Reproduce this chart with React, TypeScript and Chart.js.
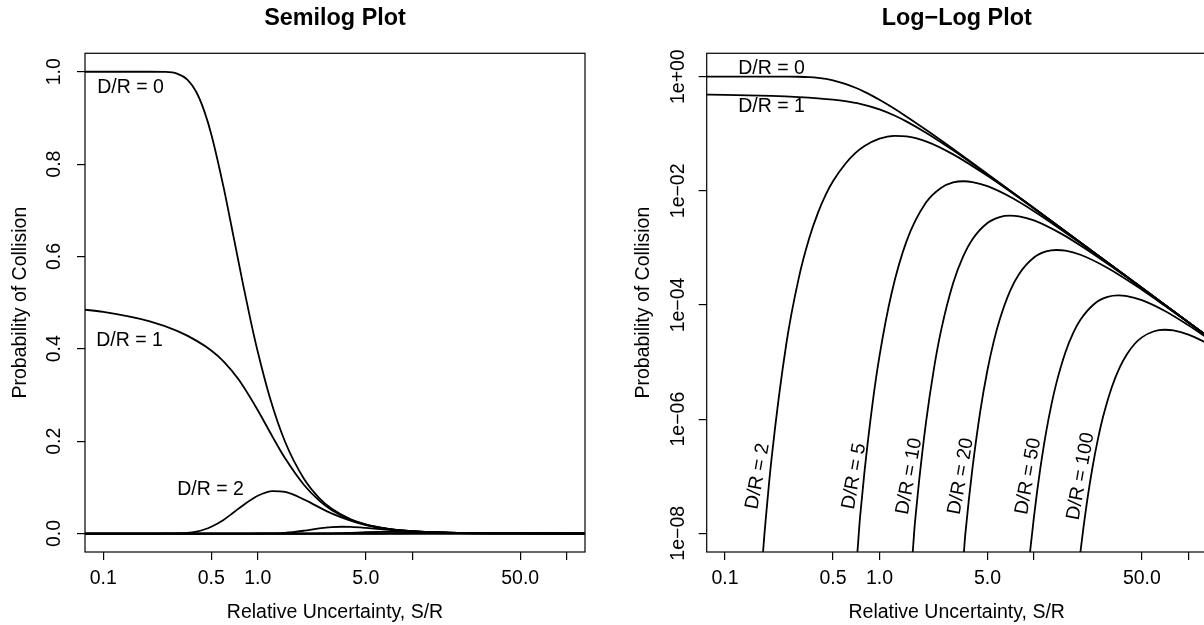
import React, { useEffect, useRef } from "react";
import { Chart, registerables } from "chart.js";

Chart.register(...registerables);

// ---------------- data (S/R values and probability of collision per curve) ----------------
const curveNames = ["D/R = 0", "D/R = 1", "D/R = 2", "D/R = 5", "D/R = 10", "D/R = 20", "D/R = 50", "D/R = 100"];

const sDR0 = [0.07, 0.1, 0.2, 0.25, 0.3, 0.35, 0.4, 0.45, 0.5, 0.6, 0.7, 0.8, 0.9, 1.0, 1.2, 1.5, 2, 2.5, 3, 4, 5, 7, 10, 20, 50, 100, 135];
const pDR0 = [1, 1, 0.999996, 0.99966, 0.99614, 0.9831, 0.9561, 0.9153, 0.8647, 0.7506, 0.6396, 0.5422, 0.4606, 0.3935, 0.2934, 0.1993, 0.1175, 0.07688, 0.054, 0.03077, 0.0198, 0.010152, 0.004988, 0.001249, 0.0002, 0.00005, 0.00002743];

const sDR1 = [0.07, 0.1, 0.2, 0.3, 0.4, 0.5, 0.6, 0.75, 1.0, 1.25, 1.5, 2, 2.5, 3, 4, 5, 7, 10, 20, 50, 100, 135];
const pDR1 = [0.4859, 0.4799, 0.4594, 0.4387, 0.4178, 0.3965, 0.373, 0.334, 0.2671, 0.2087, 0.1634, 0.1045, 0.0712, 0.0512, 0.0298, 0.0194, 0.01005, 0.00496, 0.001248, 0.0002, 0.00005, 0.00002743];

const sDR2 = [0.07, 0.17, 0.18, 0.2, 0.25, 0.3, 0.35, 0.4, 0.45, 0.5, 0.6, 0.7, 0.8, 1.0, 1.25, 1.5, 2, 3, 5, 10, 20, 50, 100, 135];
const pDR2 = [1e-12, 1.42e-9, 9.65e-9, 1.99e-7, 2.18e-5, 2.93e-4, 1.44e-3, 4.15e-3, 8.7e-3, 0.01473, 0.0295, 0.0461, 0.0608, 0.0819, 0.0919, 0.09, 0.0735, 0.0435, 0.0183, 0.00489, 0.001243, 0.0001996, 0.00004998, 0.00002743];

const sDR5 = [0.07, 0.7, 0.75, 0.8, 0.9, 1.0, 1.2, 1.5, 2, 2.5, 3, 3.5, 4, 5, 7, 10, 20, 50, 100, 135];
const pDR5 = [1e-12, 2.35e-9, 2.03e-8, 1.2e-7, 1.8e-6, 1.27e-5, 1.64e-4, 1.33e-3, 6.22e-3, 0.01125, 0.014, 0.01472, 0.01426, 0.01207, 0.007876, 0.004403, 0.001211, 0.000199, 0.00004994, 0.00002742];

const sDR10 = [0.07, 1.6, 1.7, 1.8, 2, 2.25, 2.5, 3, 3.5, 4, 5, 6, 7, 8, 10, 15, 20, 30, 50, 100, 135];
const pDR10 = [1e-12, 2.56e-9, 1.62e-8, 7.65e-8, 8.71e-7, 7.55e-6, 3.48e-5, 2.42e-4, 7.32e-4, 1.419e-3, 2.734e-3, 3.473e-3, 3.678e-3, 3.574e-3, 3.029e-3, 1.778e-3, 1.1025e-3, 5.252e-4, 1.96e-4, 4.975e-5, 2.736e-5];

const sDR20 = [0.07, 3.4, 3.6, 3.8, 4, 4.5, 5, 5.5, 6, 7, 8, 10, 12, 14, 16, 20, 30, 50, 70, 100, 135];
const pDR20 = [1e-12, 1.84e-9, 9.97e-9, 4.14e-8, 1.384e-7, 1.411e-6, 7.19e-6, 2.327e-5, 5.53e-5, 1.749e-4, 3.461e-4, 6.784e-4, 8.664e-4, 9.195e-4, 8.94e-4, 7.579e-4, 4.448e-4, 1.846e-4, 9.8e-5, 4.901e-5, 2.714e-5];

const sDR50 = [0.07, 9.3, 9.5, 10, 10.5, 11, 12, 13, 14, 16, 18, 20, 25, 30, 35, 40, 50, 70, 100, 135];
const pDR50 = [1e-12, 3.18e-9, 5.54e-9, 1.917e-8, 5.53e-8, 1.374e-7, 5.98e-7, 1.832e-6, 4.365e-6, 1.485e-5, 3.265e-5, 5.499e-5, 1.083e-4, 1.385e-4, 1.471e-4, 1.431e-4, 1.213e-4, 7.906e-5, 4.41e-5, 2.562e-5];

const sDR100 = [0.07, 19, 20, 21, 22, 24, 26, 28, 32, 36, 40, 45, 50, 60, 70, 80, 100, 135];
const pDR100 = [1e-12, 1.35e-9, 4.69e-9, 1.359e-8, 3.386e-8, 1.479e-7, 4.549e-7, 1.0855e-6, 3.702e-6, 8.15e-6, 1.3735e-5, 2.091e-5, 2.707e-5, 3.463e-5, 3.678e-5, 3.577e-5, 3.033e-5, 2.085e-5];

const curveS = [sDR0, sDR1, sDR2, sDR5, sDR10, sDR20, sDR50, sDR100];
const curveP = [pDR0, pDR1, pDR2, pDR5, pDR10, pDR20, pDR50, pDR100];

// ticks
const xTickValues = [0.1, 0.5, 1, 5, 10, 50, 100];
const xTickLabels = ["0.1", "0.5", "1.0", "5.0", "", "50.0", ""];
const yTickValuesLin = [0, 0.2, 0.4, 0.6, 0.8, 1.0];
const yTickLabelsLin = ["0.0", "0.2", "0.4", "0.6", "0.8", "1.0"];
const yTickValuesLog = [1e-8, 1e-6, 1e-4, 1e-2, 1];
const yTickLabelsLog = ["1e\u221208", "1e\u221206", "1e\u221204", "1e\u221202", "1e+00"];

// text annotations (anchor in data coordinates)
const semilogNotes = [
  { text: "D/R = 0", x: 0.15, y: 0.966, rot: 0 },
  { text: "D/R = 1", x: 0.148, y: 0.418, rot: 0 },
  { text: "D/R = 2", x: 0.494, y: 0.095, rot: 0 },
];
const loglogNotes = [
  { text: "D/R = 0", x: 0.2, y: 1.39, rot: 0 },
  { text: "D/R = 1", x: 0.2, y: 0.3, rot: 0 },
  { text: "D/R = 2", x: 0.163, y: 1e-7, rot: -80 },
  { text: "D/R = 5", x: 0.686, y: 1e-7, rot: -80 },
  { text: "D/R = 10", x: 1.56, y: 1e-7, rot: -80 },
  { text: "D/R = 20", x: 3.37, y: 1e-7, rot: -80 },
  { text: "D/R = 50", x: 9.2, y: 1e-7, rot: -80 },
  { text: "D/R = 100", x: 20.1, y: 1e-7, rot: -80 },
];

// ---------------- styling ----------------
const FONT = "'Liberation Sans', Arial, Helvetica, sans-serif";
const FS = 19.5;
const X_MIN = 0.07611;
const X_MAX = 131.4;

const decorPlugin = {
  id: "decor",
  afterDatasetsDraw(chart: any, _args: any, opts: any) {
    const { ctx, chartArea } = chart;
    const { left, top, right, bottom } = chartArea;
    ctx.save();
    ctx.strokeStyle = "#000";
    ctx.lineWidth = 1.2;
    ctx.strokeRect(left, top, right - left, bottom - top);
    ctx.fillStyle = "#000";
    ctx.font = `${FS}px ${FONT}`;
    ctx.textAlign = "center";
    ctx.textBaseline = "middle";
    const ys = chart.scales.y;
    const xs = chart.scales.x;
    opts.yTicks.forEach((v: number, i: number) => {
      const py = ys.getPixelForValue(v);
      ctx.save();
      ctx.translate(opts.yLabelX, py);
      ctx.rotate(-Math.PI / 2);
      ctx.fillText(opts.yLabels[i], 0, 0);
      ctx.restore();
    });
    opts.notes.forEach((n: any) => {
      const px = xs.getPixelForValue(n.x);
      const py = ys.getPixelForValue(n.y);
      ctx.save();
      ctx.translate(px, py);
      ctx.rotate((n.rot * Math.PI) / 180);
      ctx.fillText(n.text, 0, 0);
      ctx.restore();
    });
    ctx.restore();
  },
};

function buildConfig(kind: "lin" | "log") {
  const isLog = kind === "log";
  const datasets = curveS.map((sArr, k) => ({
    label: curveNames[k],
    data: sArr.map((s, i) => ({ x: s, y: curveP[k][i] })),
    borderColor: "#000",
    borderWidth: 1.8,
    pointRadius: 0,
    fill: false,
    cubicInterpolationMode: "monotone",
  }));
  const gridOpts = {
    drawOnChartArea: false,
    drawTicks: true,
    tickLength: 8,
    color: "#000",
    lineWidth: 1.2,
  };
  return {
    type: "line",
    data: { datasets },
    plugins: [decorPlugin],
    options: {
      animation: false,
      responsive: false,
      maintainAspectRatio: false,
      events: [],
      layout: { padding: { left: 0, right: isLog ? 13.3 : 15, top: 0, bottom: 0 } },
      plugins: {
        legend: { display: false },
        tooltip: { enabled: false },
        title: {
          display: true,
          text: isLog ? "Log\u2212Log Plot" : "Semilog Plot",
          fullSize: false,
          color: "#000",
          font: { family: FONT, size: 23.4, weight: "bold" },
          padding: { top: 5, bottom: 20.2 },
        },
        decor: {
          yTicks: isLog ? yTickValuesLog : yTickValuesLin,
          yLabels: isLog ? yTickLabelsLog : yTickLabelsLin,
          yLabelX: isLog ? 79 : 54.5,
          notes: isLog ? loglogNotes : semilogNotes,
        },
      },
      scales: {
        x: {
          type: "logarithmic",
          min: X_MIN,
          max: X_MAX,
          afterBuildTicks: (scale: any) => {
            scale.ticks = xTickValues.map((v) => ({ value: v }));
          },
          afterFit: (scale: any) => {
            scale.height = 73;
          },
          ticks: {
            autoSkip: false,
            maxRotation: 0,
            minRotation: 0,
            padding: 6.8,
            color: "#000",
            font: { family: FONT, size: FS },
            callback: (_v: any, i: number) => xTickLabels[i],
          },
          grid: gridOpts,
          border: { display: false },
          title: {
            display: true,
            text: "Relative Uncertainty, S/R",
            color: "#000",
            font: { family: FONT, size: FS },
            padding: { top: 0, bottom: 0.8 },
          },
        },
        y: {
          type: isLog ? "logarithmic" : "linear",
          min: isLog ? 4.7e-9 : -0.04,
          max: isLog ? 2.57 : 1.04,
          afterBuildTicks: (scale: any) => {
            scale.ticks = (isLog ? yTickValuesLog : yTickValuesLin).map((v) => ({ value: v }));
          },
          afterFit: (scale: any) => {
            scale.width = isLog ? 106.7 : 85;
          },
          ticks: { display: false },
          grid: gridOpts,
          border: { display: false },
          title: {
            display: true,
            text: "Probability of Collision",
            color: "#000",
            font: { family: FONT, size: FS },
            padding: { top: isLog ? 31.6 : 9.3, bottom: 0 },
          },
        },
      },
    },
  };
}

function Panel({ kind, left, width }: { kind: "lin" | "log"; left: number; width: number }) {
  const ref = useRef<HTMLCanvasElement | null>(null);
  useEffect(() => {
    if (!ref.current) return;
    const chart = new Chart(ref.current, buildConfig(kind) as any);
    return () => chart.destroy();
  }, [kind]);
  return (
    <canvas
      ref={ref}
      width={width}
      height={625}
      style={{ position: "absolute", left, top: 0, width, height: 625 }}
    />
  );
}

export default function App() {
  return (
    <div
      style={{
        position: "fixed",
        left: 0,
        top: 0,
        width: 1204,
        height: 625,
        overflow: "hidden",
        background: "#fff",
      }}
    >
      <Panel kind="lin" left={0} width={600} />
      <Panel kind="log" left={600} width={620} />
    </div>
  );
}
